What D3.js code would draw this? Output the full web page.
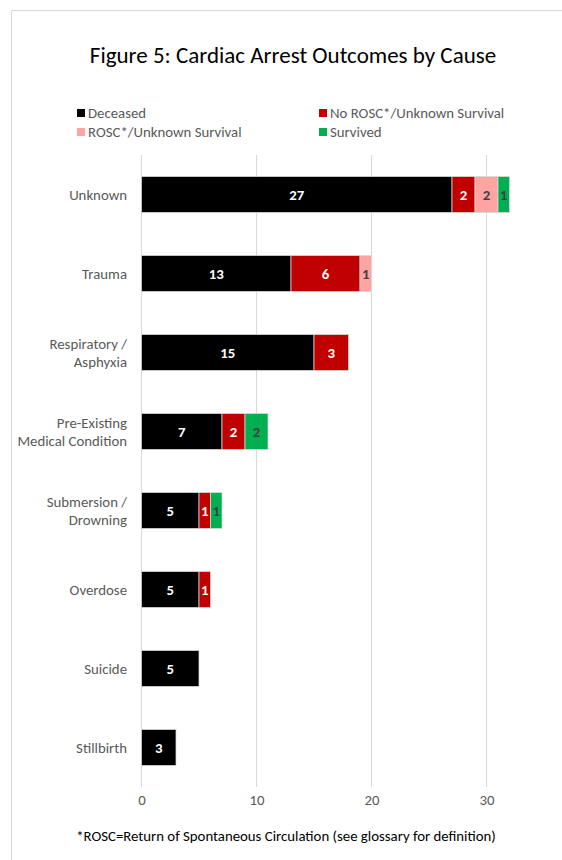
<!DOCTYPE html>
<html>
<head>
<meta charset="utf-8">
<script src="https://cdn.jsdelivr.net/npm/d3@7"></script>
<style>
  html, body { margin: 0; padding: 0; background: #fff; }
  svg { display: block; font-family: Carlito, Lato, "Open Sans", sans-serif; }
</style>
</head>
<body>
<svg id="chart" width="562" height="860"></svg>
<script>
// Causes of cardiac arrest, top to bottom
const causes = [
  ["Unknown"],
  ["Trauma"],
  ["Respiratory /", "Asphyxia"],
  ["Pre-Existing", "Medical Condition"],
  ["Submersion /", "Drowning"],
  ["Overdose"],
  ["Suicide"],
  ["Stillbirth"]
];
const seriesNames = ["Deceased", "No ROSC*/Unknown Survival", "ROSC*/Unknown Survival", "Survived"];
const deceased      = [27, 13, 15, 7, 5, 5, 5, 3];
const noRosc        = [2, 6, 3, 2, 1, 1, 0, 0];
const roscUnknown   = [2, 1, 0, 0, 0, 0, 0, 0];
const survived      = [1, 0, 0, 2, 1, 0, 0, 0];
const xTicks = [0, 10, 20, 30];

const colors = ["#000000", "#c00000", "#ffa3a3", "#00b050"];
const labelColors = ["#ffffff", "#ffffff", "#404040", "#404040"];
const FS = 14.8;

const svg = d3.select("#chart");

// outer chart border
svg.append("path")
  .attr("d", "M11.5,860 V10.5 H562")
  .attr("fill", "none")
  .attr("stroke", "#d9d9d9")
  .attr("stroke-width", 1);

svg.append("text")
  .attr("x", 293).attr("y", 63)
  .attr("text-anchor", "middle")
  .attr("font-size", 23)
  .attr("fill", "#000")
  .text("Figure 5: Cardiac Arrest Outcomes by Cause");

// legend
const legendPos = [[77, 113], [319, 113], [77, 132], [319, 132]];
seriesNames.forEach((name, i) => {
  const [lx, ly] = legendPos[i];
  svg.append("rect").attr("x", lx).attr("y", ly - 4).attr("width", 8).attr("height", 8).attr("fill", colors[i]);
  svg.append("text").attr("x", lx + 11).attr("y", ly).attr("dy", "0.35em")
    .attr("font-size", FS).attr("fill", "#595959").text(name);
});

const rows = causes.map((c, i) => ({
  key: c.join(" "),
  lines: c,
  values: [deceased[i], noRosc[i], roscUnknown[i], survived[i]]
}));

const x = d3.scaleLinear().domain([0, 35]).range([141.5, 544]);
const y = d3.scaleBand().domain(rows.map(r => r.key)).range([155, 787]).paddingInner(0.545).paddingOuter(0.2725);

// gridlines
svg.append("g").selectAll("line").data(xTicks).join("line")
  .attr("x1", d => x(d)).attr("x2", d => x(d))
  .attr("y1", 155).attr("y2", 787)
  .attr("stroke", "#d9d9d9").attr("stroke-width", 1);

// x axis tick labels
const xAxis = d3.axisBottom(x).tickValues(xTicks).tickSize(0).tickPadding(0);
const gx = svg.append("g").attr("transform", "translate(0,794)").call(xAxis);
gx.select(".domain").remove();
gx.selectAll("text").attr("font-size", FS).attr("fill", "#595959")
  .attr("font-family", "Carlito, Lato, 'Open Sans', sans-serif");

// stacked segments
const stackData = rows.map(r => {
  let acc = 0;
  return r.values.map((v, j) => {
    const seg = { key: r.key, j, v, x0: acc, x1: acc + v };
    acc += v;
    return seg;
  }).filter(s => s.v > 0);
});

const bars = svg.append("g");
stackData.forEach(segs => {
  const g = bars.append("g");
  g.selectAll("rect").data(segs).join("rect")
    .attr("x", d => x(d.x0))
    .attr("width", d => x(d.x1) - x(d.x0))
    .attr("y", d => y(d.key))
    .attr("height", y.bandwidth())
    .attr("fill", d => colors[d.j])
    .attr("stroke", "#d9d9d9").attr("stroke-width", 0.75);
  g.selectAll("text").data(segs).join("text")
    .attr("x", d => (x(d.x0) + x(d.x1)) / 2)
    .attr("y", d => y(d.key) + y.bandwidth() / 2)
    .attr("dy", "0.36em")
    .attr("text-anchor", "middle")
    .attr("font-size", FS).attr("font-weight", "bold")
    .attr("fill", d => labelColors[d.j])
    .text(d => d.v);
});

// category labels
const cat = svg.append("g");
rows.forEach(r => {
  const cy = y(r.key) + y.bandwidth() / 2;
  const n = r.lines.length;
  const t = cat.append("text")
    .attr("text-anchor", "end")
    .attr("font-size", FS).attr("fill", "#595959");
  r.lines.forEach((ln, k) => {
    t.append("tspan").attr("x", 127)
      .attr("y", cy + (k - (n - 1) / 2) * 18)
      .attr("dy", "0.35em").text(ln);
  });
});

svg.append("text")
  .attr("x", 286).attr("y", 836).attr("dy", "0.35em")
  .attr("text-anchor", "middle")
  .attr("font-size", FS).attr("fill", "#000")
  .text("*ROSC=Return of Spontaneous Circulation (see glossary for definition)");
</script>
</body>
</html>
